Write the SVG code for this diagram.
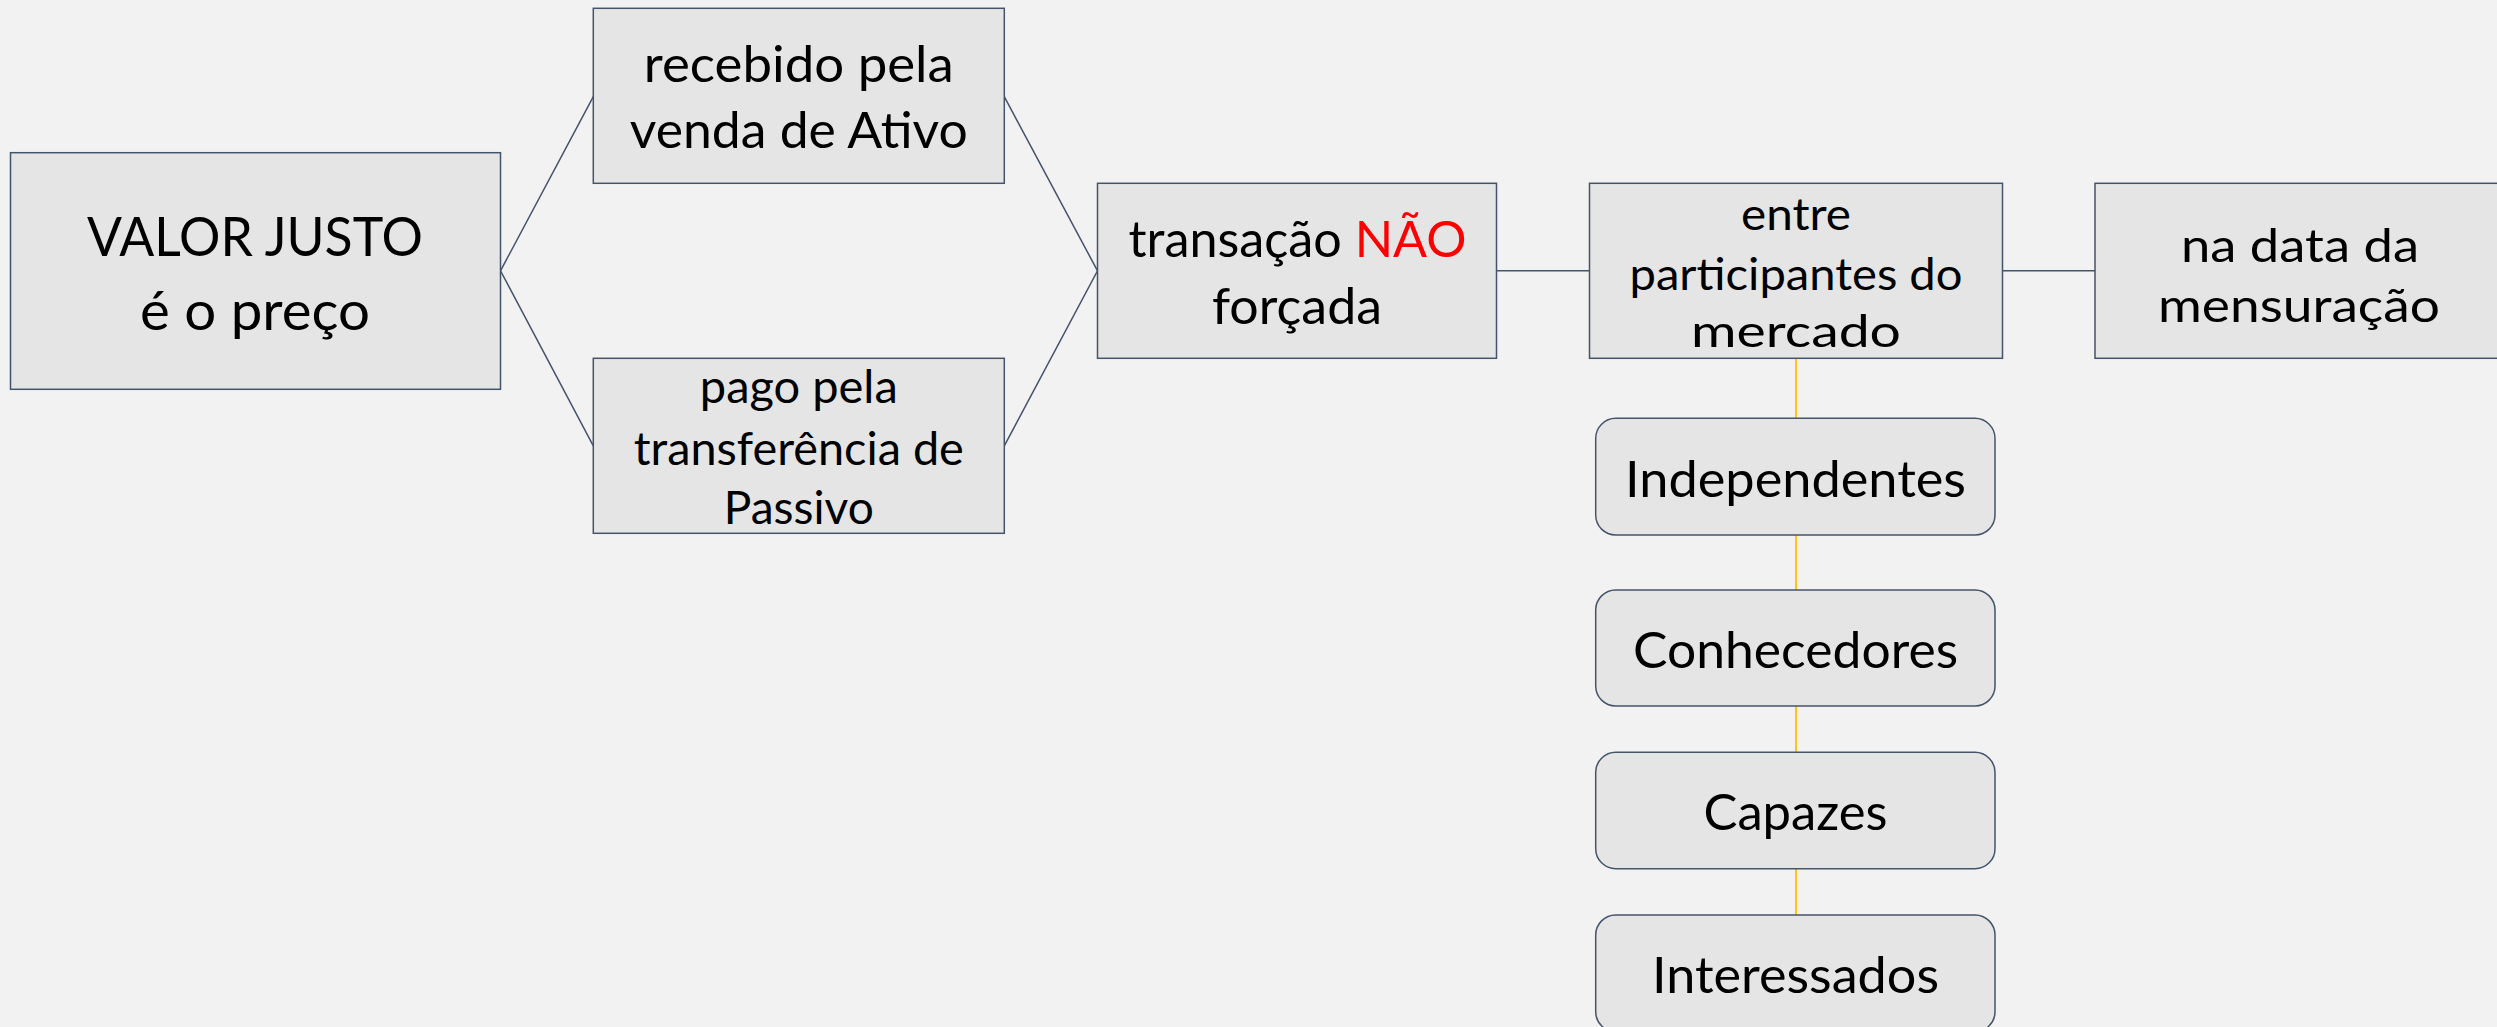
<svg xmlns="http://www.w3.org/2000/svg" width="2497" height="1027" viewBox="0 0 2497 1027">
<style>
.box{fill:#e5e5e5;stroke:#44546a;stroke-width:1.5}
.t{font-family:Lato,"Liberation Sans",sans-serif;fill:#000;text-anchor:middle}
.c{fill:none;stroke:#44546a;stroke-width:1.5}
.y{fill:none;stroke:#ffc000;stroke-width:1.8}
.red{fill:#ff0000}
</style>
<rect width="2497" height="1027" fill="#f2f2f2"/>
<g id="connectors">
<polyline class="c" points="593.3,96.7 500.5,270.8 593.3,445.8"/>
<polyline class="c" points="1004.3,96.7 1097.5,270.8 1004.3,445.8"/>
<line class="c" x1="1496.5" y1="270.8" x2="1589.5" y2="270.8"/>
<line class="c" x1="2002.5" y1="270.8" x2="2095" y2="270.8"/>
<line class="y" x1="1796" y1="358.3" x2="1796" y2="418.3"/>
<line class="y" x1="1796" y1="535" x2="1796" y2="590"/>
<line class="y" x1="1796" y1="706" x2="1796" y2="752.3"/>
<line class="y" x1="1796" y1="868.5" x2="1796" y2="915"/>
</g>
<g id="valor-justo">
<rect class="box" x="10.5" y="152.7" width="490" height="236.6"/>
<text class="t" font-size="55" x="255" y="256" textLength="336" lengthAdjust="spacingAndGlyphs">VALOR JUSTO</text>
<text class="t" font-size="55" x="255" y="330" textLength="230" lengthAdjust="spacingAndGlyphs">é o preço</text>
</g>
<g id="recebido">
<rect class="box" x="593.3" y="8.3" width="411" height="175"/>
<text class="t" font-size="50" x="798.8" y="81.7" textLength="310" lengthAdjust="spacingAndGlyphs">recebido pela</text>
<text class="t" font-size="50" x="798.8" y="148.3" textLength="338" lengthAdjust="spacingAndGlyphs">venda de Ativo</text>
</g>
<g id="pago">
<rect class="box" x="593.3" y="358.3" width="411" height="175"/>
<text class="t" font-size="46" x="798.8" y="402.7" textLength="198" lengthAdjust="spacingAndGlyphs">pago pela</text>
<text class="t" font-size="46" x="798.8" y="465" textLength="330" lengthAdjust="spacingAndGlyphs">transferência de</text>
<text class="t" font-size="46" x="798.8" y="524.3" textLength="150" lengthAdjust="spacingAndGlyphs">Passivo</text>
</g>
<g id="transacao">
<rect class="box" x="1097.5" y="183.3" width="399" height="175"/>
<text class="t" font-size="51" x="1297.5" y="256.7" textLength="338" lengthAdjust="spacingAndGlyphs">transação <tspan class="red">NÃO</tspan></text>
<text class="t" font-size="51" x="1297" y="324" textLength="170" lengthAdjust="spacingAndGlyphs">forçada</text>
</g>
<g id="entre">
<rect class="box" x="1589.5" y="183.3" width="413" height="175"/>
<text class="t" font-size="45" x="1796" y="230" textLength="110" lengthAdjust="spacingAndGlyphs">entre</text>
<text class="t" font-size="45" x="1796" y="290" textLength="333" lengthAdjust="spacingAndGlyphs">participantes do</text>
<text class="t" font-size="45" x="1796" y="346.7" textLength="210" lengthAdjust="spacingAndGlyphs">mercado</text>
</g>
<g id="na-data">
<rect class="box" x="2095" y="183.3" width="413" height="175"/>
<text class="t" font-size="47" x="2300" y="261.5" textLength="238" lengthAdjust="spacingAndGlyphs">na data da</text>
<text class="t" font-size="47" x="2299" y="322" textLength="282" lengthAdjust="spacingAndGlyphs">mensuração</text>
</g>
<g id="independentes">
<rect class="box" x="1595.7" y="418.3" width="399.3" height="116.7" rx="20"/>
<text class="t" font-size="51" x="1795.5" y="496.7" textLength="341" lengthAdjust="spacingAndGlyphs">Independentes</text>
</g>
<g id="conhecedores">
<rect class="box" x="1595.7" y="590" width="399.3" height="116" rx="20"/>
<text class="t" font-size="51" x="1795.5" y="667.7" textLength="325" lengthAdjust="spacingAndGlyphs">Conhecedores</text>
</g>
<g id="capazes">
<rect class="box" x="1595.7" y="752.3" width="399.3" height="116.4" rx="20"/>
<text class="t" font-size="51" x="1795.5" y="830" textLength="184" lengthAdjust="spacingAndGlyphs">Capazes</text>
</g>
<g id="interessados">
<rect class="box" x="1595.7" y="915" width="399.3" height="116.7" rx="20"/>
<text class="t" font-size="51" x="1795.5" y="992.7" textLength="287" lengthAdjust="spacingAndGlyphs">Interessados</text>
</g>
</svg>
